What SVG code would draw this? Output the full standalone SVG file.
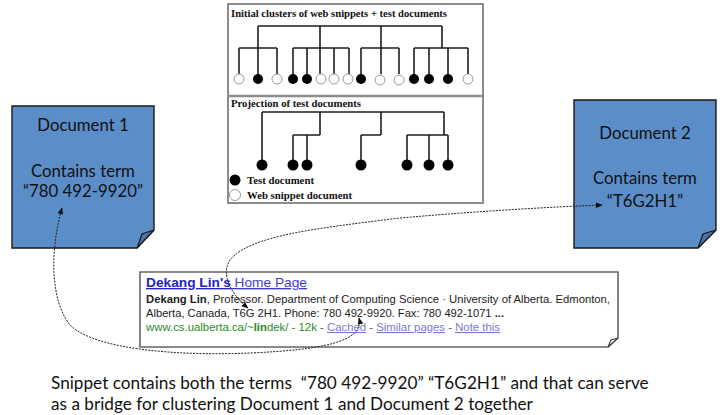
<svg xmlns="http://www.w3.org/2000/svg" width="722" height="415" viewBox="0 0 722 415">
  <style>
    .frame { fill: #fff; stroke: #8c8c8c; stroke-width: 2; }
    .tree { fill: none; stroke: #1e1e1e; stroke-width: 1.6; }
    .test { fill: #000; }
    .web { fill: #fff; stroke: #9a9a9a; stroke-width: 1; }
    .fig { font-family: "Liberation Serif", "DejaVu Serif", serif; font-weight: bold; font-size: 10.5px; fill: #111; }
    .doc { fill: #5b8dc9; stroke: #1a1a1a; stroke-width: 1.4; }
    .flap { fill: #4874ab; stroke: #1a1a1a; stroke-width: 1.2; }
    .doctext { font-family: Lato, "Open Sans", sans-serif; font-size: 16.8px; fill: #111; text-anchor: middle; }
    .snip { fill: #fff; stroke: #666; stroke-width: 1.6; }
    .sflap { fill: #fff; stroke: #444; stroke-width: 1.2; }
    .arial { font-family: "Liberation Sans", Arial, sans-serif; }
    .link { stroke: #222; stroke-width: 1; fill: none; stroke-dasharray: 2 1.2; }
    .caption { font-family: Lato, "Open Sans", sans-serif; font-size: 17.2px; fill: #111; }
  </style>
  <defs>
    <marker id="arrow" viewBox="0 0 10 10" refX="9" refY="5" markerWidth="7" markerHeight="7" orient="auto-start-reverse" markerUnits="userSpaceOnUse">
      <path d="M0,1 L10,5 L0,9 Z" fill="#111"/>
    </marker>
  </defs>

  <!-- cluster figure -->
  <g id="cluster-figure">
    <rect class="frame" x="228" y="4" width="255" height="199"/>
    <line x1="228" y1="96" x2="483" y2="96" stroke="#8c8c8c" stroke-width="2.5"/>
    <text class="fig" x="231" y="17" textLength="216" lengthAdjust="spacingAndGlyphs">Initial clusters of web snippets + test documents</text>

    <!-- upper dendrogram -->
    <path class="tree" d="M258,26 H442
      M258,26 V74 M239,48 H277 M239,48 V74 M277,48 V74
      M320,26 V74 M293,48 H349 M293,48 V74 M307,48 V74 M334,48 V74 M349,48 V74
      M381,26 V74 M361,48 H399 M361,48 V74 M399,48 V74
      M442,26 V48 M414,48 H468 M414,48 V74 M429,48 V74 M448,48 V74 M468,48 V74"/>
    <circle class="web" cx="239" cy="79" r="5"/>
    <circle class="test" cx="258" cy="79" r="5"/>
    <circle class="web" cx="277" cy="79" r="5"/>
    <circle class="test" cx="293" cy="79" r="5"/>
    <circle class="test" cx="307" cy="79" r="5"/>
    <circle class="web" cx="321" cy="79" r="5"/>
    <circle class="web" cx="334" cy="79" r="5"/>
    <circle class="web" cx="348" cy="79" r="5"/>
    <circle class="test" cx="361" cy="79" r="5"/>
    <circle class="web" cx="380" cy="80" r="5"/>
    <circle class="web" cx="399" cy="80" r="5"/>
    <circle class="test" cx="414" cy="79" r="5"/>
    <circle class="test" cx="429" cy="79" r="5"/>
    <circle class="test" cx="448" cy="79" r="5"/>
    <circle class="web" cx="468" cy="79" r="5"/>

    <text class="fig" x="231" y="107" textLength="130" lengthAdjust="spacingAndGlyphs">Projection of test documents</text>

    <!-- lower dendrogram -->
    <path class="tree" d="M262,112 H444
      M262,112 V160
      M320,112 V135 M293,135 H320 M293,135 V160 M307,135 V160
      M381,112 V135 M361,135 H381 M361,135 V160
      M444,112 V135 M407,135 H448 M407,135 V160 M429,135 V160 M448,135 V160"/>
    <circle class="test" cx="262" cy="165" r="5.5"/>
    <circle class="test" cx="293" cy="165" r="5.5"/>
    <circle class="test" cx="307" cy="165" r="5.5"/>
    <circle class="test" cx="361" cy="165" r="5.5"/>
    <circle class="test" cx="407" cy="165" r="5.5"/>
    <circle class="test" cx="429" cy="165" r="5.5"/>
    <circle class="test" cx="448" cy="165" r="5.5"/>

    <!-- legend -->
    <circle class="test" cx="235" cy="180" r="5.5"/>
    <text class="fig" x="247" y="184" textLength="67" lengthAdjust="spacingAndGlyphs">Test document</text>
    <circle class="web" cx="235" cy="195" r="5.5" stroke="#c8c8c8"/>
    <text class="fig" x="247" y="199" textLength="105" lengthAdjust="spacingAndGlyphs">Web snippet document</text>
  </g>

  <!-- Document 1 -->
  <g id="document-1">
    <path class="doc" d="M12,106 H154 V230 L137,248 H12 Z"/>
    <path class="flap" d="M137,248 L142,234 L154,230 Z"/>
    <text class="doctext" x="83" y="131">Document 1</text>
    <text class="doctext" x="83" y="177">Contains term</text>
    <text class="doctext" x="83" y="197">“780 492-9920”</text>
  </g>

  <!-- Document 2 -->
  <g id="document-2">
    <path class="doc" d="M574,100 H716 V230 L698,248 H574 Z"/>
    <path class="flap" d="M698,248 L703,234 L716,230 Z"/>
    <text class="doctext" x="645" y="139">Document 2</text>
    <text class="doctext" x="645" y="184">Contains term</text>
    <text class="doctext" x="645" y="207">“T6G2H1”</text>
  </g>

  <!-- search result snippet -->
  <g id="snippet">
    <path class="snip" d="M140,272 H618 V338 L608,347 H140 Z"/>
    <path class="sflap" d="M608,347 L611,340 L618,338 Z"/>
    <text class="arial" x="146" y="287" font-size="13.5" textLength="161" lengthAdjust="spacingAndGlyphs"><tspan font-weight="bold" fill="#2323c8" text-decoration="underline">Dekang Lin's</tspan><tspan fill="#3d3dd0" text-decoration="underline"> Home Page</tspan></text>
    <text class="arial" x="146" y="303" font-size="11" fill="#222" textLength="464" lengthAdjust="spacingAndGlyphs"><tspan font-weight="bold">Dekang Lin</tspan>, Professor. Department of Computing Science · University of Alberta. Edmonton,</text>
    <text class="arial" x="146" y="317" font-size="11" fill="#222" textLength="358" lengthAdjust="spacingAndGlyphs">Alberta, Canada, T6G 2H1. Phone: 780 492-9920. Fax: 780 492-1071 <tspan font-weight="bold">...</tspan></text>
    <text class="arial" x="146" y="331" font-size="11" textLength="354" lengthAdjust="spacingAndGlyphs"><tspan fill="#2a8a2a">www.cs.ualberta.ca/~<tspan font-weight="bold">lin</tspan>dek/ - 12k</tspan><tspan fill="#555"> - </tspan><tspan fill="#7a7ad0" text-decoration="underline">Cached</tspan><tspan fill="#555"> - </tspan><tspan fill="#7a7ad0" text-decoration="underline">Similar pages</tspan><tspan fill="#555"> - </tspan><tspan fill="#7a7ad0" text-decoration="underline">Note this</tspan></text>
  </g>

  <!-- dotted links between shared terms -->
  <g id="connectors">
    <path class="link" d="M359,318 C365,342 320,350 250,353 C180,356 95,350 70,325 C50,300 50,250 62,208" marker-start="url(#arrow)" marker-end="url(#arrow)"/>
    <path class="link" d="M248,308 C232,295 220,275 230,260 C250,235 320,228 400,218 C480,211 550,207 602,205" marker-start="url(#arrow)" marker-end="url(#arrow)"/>
  </g>

  <!-- caption -->
  <g id="caption">
    <text class="caption" x="51" y="389" xml:space="preserve">Snippet contains both the terms  “780 492-9920” “T6G2H1” and that can serve</text>
    <text class="caption" x="51" y="410">as a bridge for clustering Document 1 and Document 2 together</text>
  </g>
</svg>
